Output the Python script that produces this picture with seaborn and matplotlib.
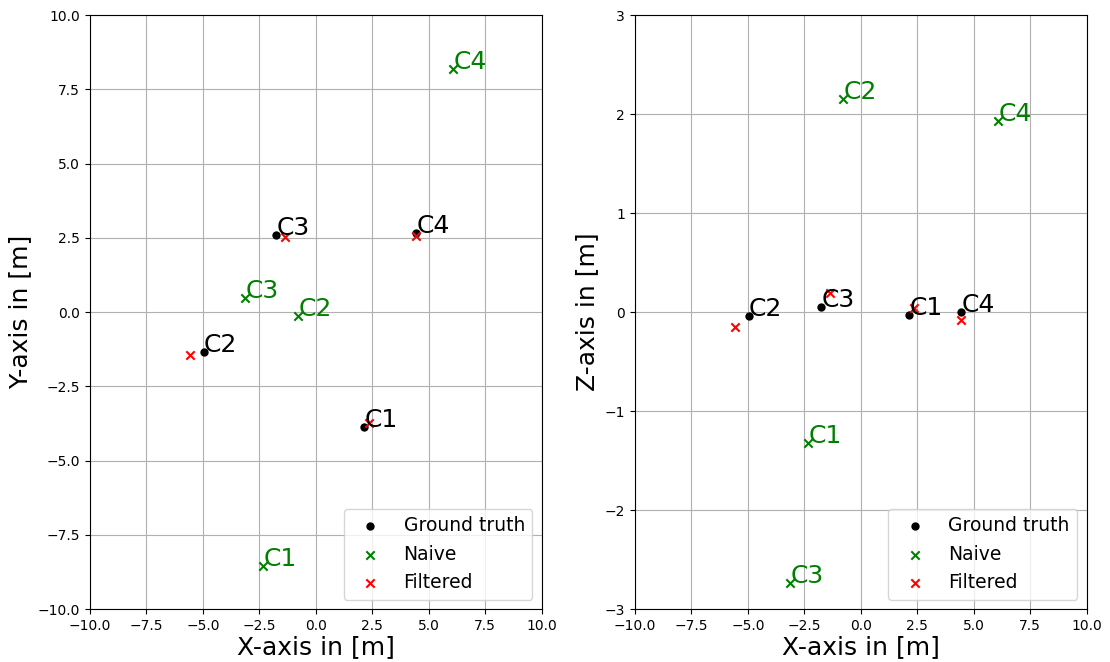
import numpy as np
import pandas as pd
import matplotlib
matplotlib.use("Agg")
import matplotlib.pyplot as plt
import seaborn as sns

# Camera labels
cams = ["C1", "C2", "C3", "C4"]

# Ground truth positions [m]
gt_x = [2.15, -4.95, -1.75, 4.45]
gt_y = [-3.88, -1.35, 2.59, 2.65]
gt_z = [-0.03, -0.04, 0.05, 0.0]

# Naive estimates
naive_x = [-2.32, -0.78, -3.12, 6.08]
naive_y = [-8.55, -0.13, 0.47, 8.18]
naive_z = [-1.32, 2.15, -2.74, 1.93]

# Filtered estimates
filt_x = [2.35, -5.55, -1.35, 4.45]
filt_y = [-3.74, -1.45, 2.53, 2.56]
filt_z = [0.04, -0.15, 0.19, -0.08]

df_gt = pd.DataFrame({'cam': cams, 'x': gt_x, 'y': gt_y, 'z': gt_z})
df_naive = pd.DataFrame({'cam': cams, 'x': naive_x, 'y': naive_y, 'z': naive_z})
df_filt = pd.DataFrame({'cam': cams, 'x': filt_x, 'y': filt_y, 'z': filt_z})

plt.rcParams['font.family'] = ['DejaVu Sans']

fig, axes = plt.subplots(1, 2, figsize=(11.1, 6.62), dpi=100)
fig.subplots_adjust(left=0.081, right=0.979, top=0.977, bottom=0.08, wspace=0.206)

def draw(ax, col, ylabel, ylim):
    sns.scatterplot(data=df_gt, x='x', y=col, ax=ax, color='black', marker='o', s=36,
                    linewidth=0, label='Ground truth')
    sns.scatterplot(data=df_naive, x='x', y=col, ax=ax, color='green', marker='x', s=36,
                    linewidth=1.5, label='Naive')
    sns.scatterplot(data=df_filt, x='x', y=col, ax=ax, color='red', marker='x', s=36,
                    linewidth=1.5, label='Filtered')
    for _, r in df_gt.iterrows():
        ax.text(r['x'], r[col], r['cam'], fontsize=18, color='black')
    for _, r in df_naive.iterrows():
        ax.text(r['x'], r[col], r['cam'], fontsize=18, color='green')
    ax.set_xlim(-10, 10)
    ax.set_ylim(*ylim)
    ax.set_xticks(np.arange(-10, 10.1, 2.5))
    ax.grid(True, color='#b0b0b0', linewidth=0.8)
    ax.set_axisbelow(True)
    ax.set_xlabel('X-axis in [m]', fontsize=18, labelpad=2)
    ax.set_ylabel(ylabel, fontsize=18)
    ax.tick_params(labelsize=10)
    ax.legend(loc='lower right', fontsize=13.5)

draw(axes[0], 'y', 'Y-axis in [m]', (-10, 10))
axes[0].set_yticks(np.arange(-10, 10.1, 2.5))
draw(axes[1], 'z', 'Z-axis in [m]', (-3, 3))
axes[1].set_yticks(np.arange(-3, 3.1, 1))

fig.savefig("out.png", dpi=100)
